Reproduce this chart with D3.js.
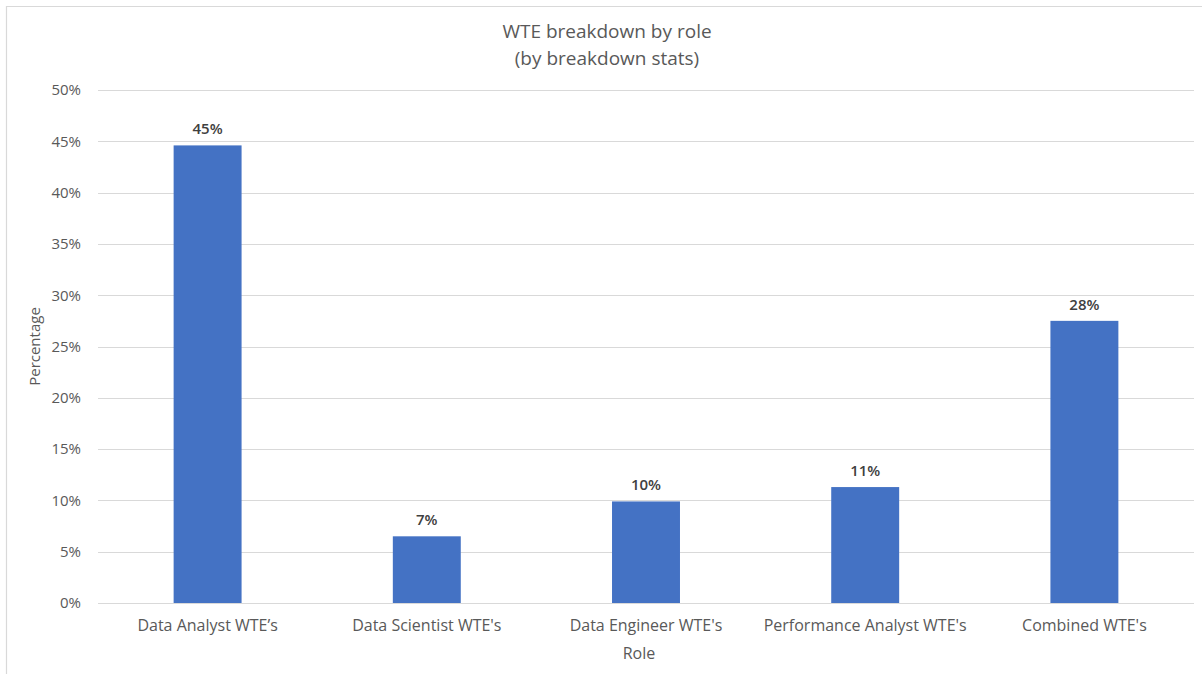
<!DOCTYPE html>
<html>
<head>
<meta charset="utf-8">
<script src="https://cdn.jsdelivr.net/npm/d3@7"></script>
<style>
  html, body { margin: 0; padding: 0; background: #fff; }
  svg { display: block; font-family: "Open Sans", "Noto Sans", sans-serif; }
</style>
</head>
<body>
<svg id="chart" width="1202" height="674"></svg>
<script>
// Share of WTEs by role
const categories = ["Data Analyst WTE’s", "Data Scientist WTE's", "Data Engineer WTE's", "Performance Analyst WTE's", "Combined WTE's"];
const values = [44.6, 6.5, 9.9, 11.3, 27.5];
const valueLabels = ["45%", "7%", "10%", "11%", "28%"];
const yTicks = [0, 5, 10, 15, 20, 25, 30, 35, 40, 45, 50];

const svg = d3.select("#chart");
const W = 1202, H = 674;
const plot = { left: 98, right: 1194, top: 90, bottom: 603 };
const textColor = "#595959";

// outer frame (open on the right and bottom)
svg.append("path")
  .attr("d", `M6.5,${H} V6.5 H${W}`)
  .attr("fill", "none").attr("stroke", "#d9d9d9").attr("stroke-width", 1.2);

const x = d3.scaleBand().domain(categories).range([plot.left, plot.right]).paddingInner(0.69).paddingOuter(0.345);
const y = d3.scaleLinear().domain([0, 50]).range([plot.bottom, plot.top]);

// gridlines
svg.append("g").selectAll("line").data(yTicks).join("line")
  .attr("x1", plot.left).attr("x2", plot.right)
  .attr("y1", d => Math.round(y(d)) + 0.5).attr("y2", d => Math.round(y(d)) + 0.5)
  .attr("stroke", "#d9d9d9").attr("stroke-width", 1);

// y axis labels
const yAxis = d3.axisLeft(y).tickValues(yTicks).tickFormat(d => d + "%").tickSize(0).tickPadding(0);
const gy = svg.append("g").attr("transform", `translate(${plot.left - 17},0)`).call(yAxis);
gy.select(".domain").remove();
gy.selectAll("text").attr("fill", textColor).style("font-size", "15px").style("font-family", "'Open Sans', sans-serif");

// bars
svg.append("g").selectAll("rect").data(values).join("rect")
  .attr("x", (d, i) => x(categories[i]))
  .attr("width", x.bandwidth())
  .attr("y", d => y(d))
  .attr("height", d => y(0) - y(d))
  .attr("fill", "#4472c4");

// value labels
svg.append("g").selectAll("text").data(values).join("text")
  .attr("x", (d, i) => x(categories[i]) + x.bandwidth() / 2)
  .attr("y", d => y(d) - 11)
  .attr("text-anchor", "middle")
  .attr("fill", "#404040")
  .style("font-size", "15px").style("font-weight", "600")
  .text((d, i) => valueLabels[i]);

// x axis (baseline + category labels)
const xAxis = d3.axisBottom(x).tickSize(0).tickPadding(17);
const gx = svg.append("g").attr("transform", `translate(0,${plot.bottom})`).call(xAxis);
gx.select(".domain").remove();
gx.selectAll("text").attr("fill", textColor).style("font-size", "16px").style("font-family", "'Open Sans', sans-serif");

// axis titles
svg.append("text")
  .attr("x", (plot.left + plot.right) / 2 - 7).attr("y", 659)
  .attr("text-anchor", "middle").attr("fill", textColor)
  .style("font-size", "16px").text("Role");

svg.append("text")
  .attr("transform", `translate(40,${(plot.top + plot.bottom) / 2}) rotate(-90)`)
  .attr("text-anchor", "middle").attr("fill", textColor)
  .style("font-size", "15px").text("Percentage");

// chart title
const title = svg.append("text").attr("x", 607).attr("text-anchor", "middle").attr("fill", textColor).style("font-size", "19px");
title.append("tspan").attr("x", 607).attr("y", 38).text("WTE breakdown by role");
title.append("tspan").attr("x", 607).attr("y", 65).text("(by breakdown stats)");
</script>
</body>
</html>
